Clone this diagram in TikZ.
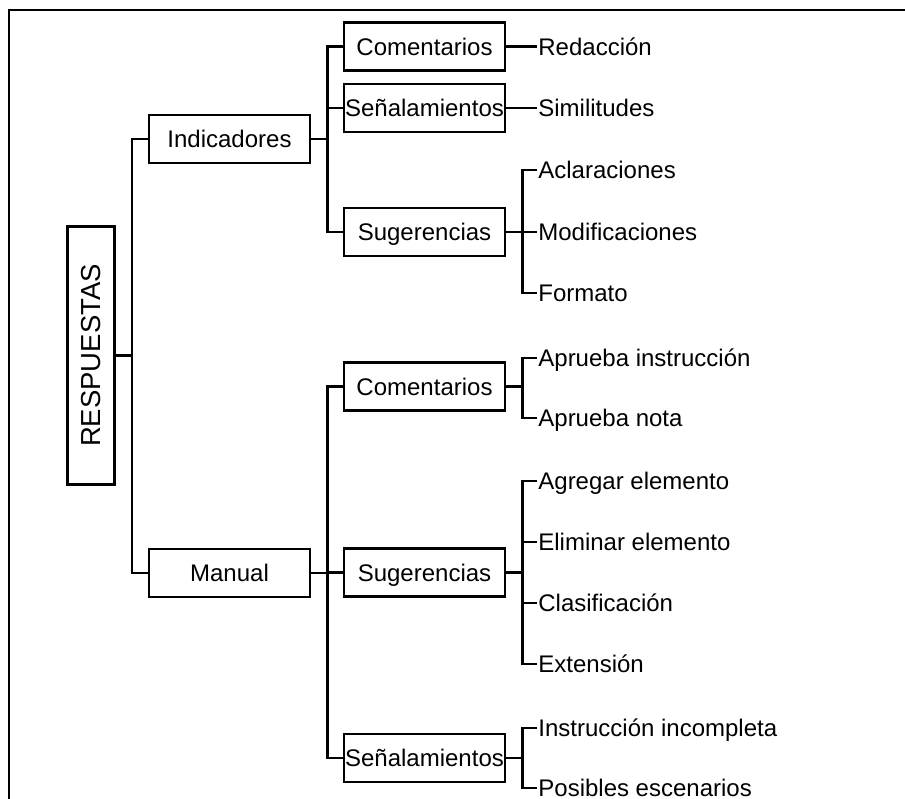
\documentclass[tikz,border=0pt]{standalone}
\usepackage{fontspec}
\setmainfont{Liberation Sans}
\begin{document}
\begin{tikzpicture}[x=1pt,y=-1pt,
  every node/.style={font=\fontsize{24}{28}\selectfont, text height=20pt, text depth=2.8pt, inner ysep=0pt},
  box/.style={draw, line width=2.6pt, minimum width=161pt, minimum height=48pt, inner xsep=0pt},
  leaf/.style={anchor=west, inner xsep=1.2pt},
  link/.style={line width=2.6pt},
  frame/.style={line width=2.2pt}]
\useasboundingbox (0,0) rectangle (905,799);
\clip (0,0) rectangle (905,799);

% open frame along the top and left edges
\draw[frame] (920,10) -- (9,10) -- (9,820);

% root (rotated: its south side faces right)
\node[draw, line width=2.6pt, rotate=90, minimum width=258pt, minimum height=47pt,
      font=\fontsize{27.5}{32}\selectfont, text height=22.9pt, text depth=3.2pt] (root) at (91,355.5) {RESPUESTAS};

% first level
\node[box] (ind) at (229.5,139) {Indicadores};
\node[box] (man) at (229.5,573) {Manual};

% second level under Indicadores
\node[box] (comI) at (424.5,46.5) {Comentarios};
\node[box] (senI) at (424.5,108) {Señalamientos};
\node[box] (sugI) at (424.5,232) {Sugerencias};

% second level under Manual
\node[box] (comM) at (424.5,386.5) {Comentarios};
\node[box] (sugM) at (424.5,572.5) {Sugerencias};
\node[box] (senM) at (424.5,758) {Señalamientos};

% leaves
\node[leaf] (red) at (537,46.5) {Redacción};
\node[leaf] (sim) at (537,108) {Similitudes};
\node[leaf] (acl) at (537,170) {Aclaraciones};
\node[leaf] (mod) at (537,232) {Modificaciones};
\node[leaf] (for) at (537,293) {Formato};
\node[leaf] (api) at (537,358) {Aprueba instrucción};
\node[leaf] (apn) at (537,418) {Aprueba nota};
\node[leaf] (agr) at (537,481) {Agregar elemento};
\node[leaf] (eli) at (537,542) {Eliminar elemento};
\node[leaf] (cla) at (537,603) {Clasificación};
\node[leaf] (ext) at (537,664) {Extensión};
\node[leaf] (ins) at (537,728) {Instrucción incompleta};
\node[leaf] (pos) at (537,788) {Posibles escenarios};

% bracket connectors
\draw[link] (root.south) -- ++(16,0) |- (ind.west);
\draw[link] (root.south) -- ++(16,0) |- (man.west);
\foreach \p/\c in {ind/comI, ind/senI, ind/sugI,
                   man/comM, man/sugM, man/senM,
                   comI/red, senI/sim, sugI/acl, sugI/mod, sugI/for,
                   comM/api, comM/apn,
                   sugM/agr, sugM/eli, sugM/cla, sugM/ext,
                   senM/ins, senM/pos}
  \draw[link] (\p.east) -- ++(16,0) |- (\c.west);
\end{tikzpicture}
\end{document}
